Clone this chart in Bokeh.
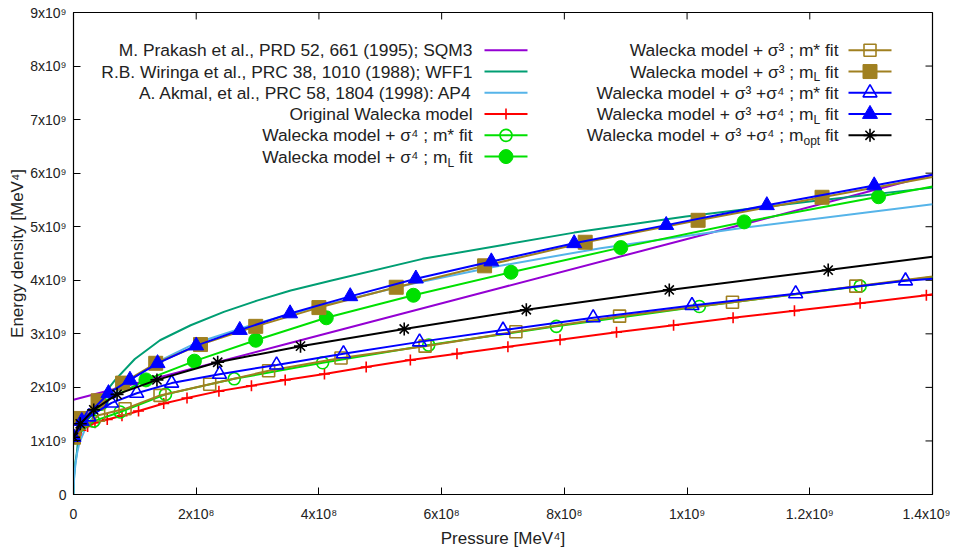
import numpy as np
from bokeh.plotting import figure
from bokeh.models import Range1d, FixedTicker
from bokeh.embed import file_html
from bokeh.resources import INLINE
from bokeh.core.properties import value

SCALE = 1e9  # values below are in units of 1e9 MeV^4

# ---- reference EoS curves (lines only) ----
sqm3_p = [0.0, 0.35, 0.70, 1.05, 1.40]
sqm3_e = [1.77, 2.82, 3.87, 4.92, 5.97]

wff1_p = [0.0, 0.001, 0.003, 0.0055, 0.008, 0.015, 0.025, 0.035, 0.050, 0.068, 0.100,
          0.141, 0.191, 0.245, 0.299, 0.354, 0.419, 0.569, 0.700, 0.816, 0.998, 1.200, 1.400]
wff1_e = [0.0, 0.35, 0.60, 0.78, 1.08, 1.22, 1.44, 1.63, 1.88, 2.14, 2.53,
          2.88, 3.16, 3.41, 3.62, 3.81, 3.99, 4.40, 4.66, 4.89, 5.19, 5.47, 5.73]

ap4_p = [0.0, 0.001, 0.003, 0.006, 0.010, 0.020, 0.035, 0.060, 0.100, 0.150, 0.200,
         0.300, 0.370, 0.450, 0.550, 0.680, 0.859, 1.092, 1.400]
ap4_e = [0.0, 0.30, 0.55, 0.78, 0.98, 1.25, 1.50, 1.82, 2.20, 2.55, 2.83,
         3.20, 3.42, 3.65, 3.93, 4.24, 4.60, 4.98, 5.42]

# ---- Walecka model variants (marker points + value at right edge p=1.4) ----
orig_p = [0.0, 0.012, 0.023, 0.035, 0.055, 0.079, 0.106, 0.147, 0.185, 0.237, 0.290, 0.345,
          0.409, 0.477, 0.549, 0.625, 0.708, 0.793, 0.885, 0.978, 1.075, 1.175, 1.282, 1.390]
orig_e = [1.07, 1.20, 1.27, 1.34, 1.40, 1.47, 1.56, 1.70, 1.80, 1.93, 2.03, 2.14,
          2.25, 2.38, 2.51, 2.63, 2.76, 2.89, 3.03, 3.16, 3.30, 3.43, 3.57, 3.72]
orig_edge = 3.74

s4_mstar_p = [0.0, 0.033, 0.076, 0.150, 0.262, 0.406, 0.579, 0.787, 1.020, 1.282]
s4_mstar_e = [1.07, 1.37, 1.54, 1.87, 2.16, 2.46, 2.79, 3.14, 3.51, 3.89]
s4_mstar_edge = 4.06

s4_mL_p = [0.0, 0.045, 0.118, 0.197, 0.297, 0.412, 0.554, 0.713, 0.892, 1.093, 1.312]
s4_mL_e = [1.07, 1.70, 2.14, 2.49, 2.88, 3.30, 3.72, 4.15, 4.61, 5.09, 5.56]
s4_mL_edge = 5.75

s3_mstar_p = [0.0, 0.041, 0.084, 0.141, 0.222, 0.318, 0.436, 0.573, 0.721, 0.890, 1.074, 1.275]
s3_mstar_e = [1.07, 1.48, 1.60, 1.85, 2.06, 2.31, 2.55, 2.77, 3.04, 3.33, 3.59, 3.89]
s3_mstar_edge = 4.07

s3_mL_p = [0.0, 0.012, 0.040, 0.080, 0.134, 0.207, 0.297, 0.400, 0.526, 0.670, 0.834, 1.018, 1.220]
s3_mL_e = [1.07, 1.42, 1.75, 2.08, 2.45, 2.80, 3.14, 3.49, 3.87, 4.27, 4.71, 5.12, 5.55]
s3_mL_edge = 5.93

s34_mstar_p = [0.0, 0.025, 0.062, 0.103, 0.160, 0.238, 0.331, 0.440, 0.564, 0.700, 0.847,
               1.008, 1.177, 1.356]
s34_mstar_e = [1.07, 1.45, 1.71, 1.89, 2.08, 2.245, 2.42, 2.63, 2.85, 3.07, 3.30,
               3.53, 3.75, 3.99]
s34_mstar_edge = 4.03

s34_mL_p = [0.0, 0.0135, 0.057, 0.092, 0.137, 0.200, 0.271, 0.353, 0.451, 0.558, 0.681,
            0.816, 0.966, 1.130, 1.305]
s34_mL_e = [1.07, 1.37, 1.89, 2.14, 2.45, 2.78, 3.07, 3.38, 3.70, 4.03, 4.35,
            4.69, 5.03, 5.40, 5.77]
s34_mL_edge = 5.97

s34_mopt_p = [0.0, 0.011, 0.033, 0.071, 0.136, 0.235, 0.370, 0.539, 0.738, 0.971, 1.230]
s34_mopt_e = [1.07, 1.32, 1.58, 1.87, 2.14, 2.47, 2.77, 3.09, 3.45, 3.82, 4.19]
s34_mopt_edge = 4.44

X_MAX = 1.4

# ---- ticks ----
x_ticks = [0, 2e8, 4e8, 6e8, 8e8, 1e9, 1.2e9, 1.4e9]
x_tick_labels = ["0", "2x10\u2078", "4x10\u2078", "6x10\u2078", "8x10\u2078",
                 "1x10\u2079", "1.2x10\u2079", "1.4x10\u2079"]
y_ticks = [0, 1e9, 2e9, 3e9, 4e9, 5e9, 6e9, 7e9, 8e9, 9e9]
y_tick_labels = ["0", "1x10\u2079", "2x10\u2079", "3x10\u2079", "4x10\u2079",
                 "5x10\u2079", "6x10\u2079", "7x10\u2079", "8x10\u2079", "9x10\u2079"]

PURPLE = "#9400d3"
TEAL = "#009e73"
LBLUE = "#56b4e9"
RED = "#ff0000"
GREEN = "#00e000"
BROWN = "#a08020"
BLUE = "#0000ff"
BLACK = "#000000"
FONT = "Liberation Sans"
TXT = "#222222"
TICK_FS = "14px"
LEG_FS = "17.4px"

X0, X1, Y0, Y1 = 0.0, 1.4e9, 0.0, 9e9
FRAME_L, FRAME_T = 73.0, 12.0
FRAME_W, FRAME_H = 859.0, 485.0
CANVAS_W, CANVAS_H = 950, 550

p = figure(width=CANVAS_W, height=CANVAS_H, output_backend="svg", toolbar_location=None,
           x_range=Range1d(X0, X1), y_range=Range1d(Y0, Y1),
           min_border_left=int(FRAME_L), min_border_right=int(CANVAS_W - FRAME_L - FRAME_W),
           min_border_top=int(FRAME_T), min_border_bottom=int(CANVAS_H - FRAME_T - FRAME_H))
p.grid.visible = False
p.outline_line_color = "black"
p.outline_line_width = 1.2
p.background_fill_color = "white"
p.border_fill_color = "white"

for ax, ticks, labels in ((p.xaxis[0], x_ticks, x_tick_labels), (p.yaxis[0], y_ticks, y_tick_labels)):
    ax.ticker = FixedTicker(ticks=ticks)
    ax.major_label_overrides = {float(t): l for t, l in zip(ticks, labels)}
    ax.major_tick_in = 7
    ax.major_tick_out = 0
    ax.minor_tick_line_color = None
    ax.major_tick_line_color = "black"
    ax.axis_line_color = "black"
    ax.major_label_text_font = FONT
    ax.major_label_text_font_size = TICK_FS
    ax.major_label_text_color = TXT
    ax.axis_label_text_font = FONT
    ax.axis_label_text_font_size = "17px"
    ax.axis_label_text_font_style = "normal"
    ax.axis_label_text_color = TXT

p.xaxis.axis_label = "Pressure [MeV\u2074]"
p.yaxis.axis_label = "Energy density [MeV\u2074]"
p.xaxis.major_label_standoff = 11
p.xaxis.axis_label_standoff = 4
p.yaxis.major_label_standoff = 7
p.yaxis.axis_label_standoff = 0

# mirrored inward ticks on the top and right borders
tick_dy = 7.0 / FRAME_H * (Y1 - Y0)
tick_dx = 7.0 / FRAME_W * (X1 - X0)
p.segment(x0=x_ticks, y0=[Y1] * len(x_ticks), x1=x_ticks, y1=[Y1 - tick_dy] * len(x_ticks),
          line_color="black", line_width=1)
p.segment(x0=[X1] * len(y_ticks), y0=y_ticks, x1=[X1 - tick_dx] * len(y_ticks), y1=y_ticks,
          line_color="black", line_width=1)

def sc(a):
    return np.array(a, dtype=float) * SCALE

# reference curves
p.line(sc(sqm3_p), sc(sqm3_e), line_color=PURPLE, line_width=2)
p.line(sc(wff1_p), sc(wff1_e), line_color=TEAL, line_width=2)
p.line(sc(ap4_p), sc(ap4_e), line_color=LBLUE, line_width=2)

series = [
    (orig_p, orig_e, orig_edge, RED, "cross", RED, 11, 1.6),
    (s4_mstar_p, s4_mstar_e, s4_mstar_edge, GREEN, "circle", None, 12, 1.6),
    (s4_mL_p, s4_mL_e, s4_mL_edge, GREEN, "circle", GREEN, 14, 1.0),
    (s3_mstar_p, s3_mstar_e, s3_mstar_edge, BROWN, "square", None, 12, 1.6),
    (s3_mL_p, s3_mL_e, s3_mL_edge, BROWN, "square", BROWN, 14, 1.0),
    (s34_mstar_p, s34_mstar_e, s34_mstar_edge, BLUE, "triangle", None, 14, 1.6),
    (s34_mL_p, s34_mL_e, s34_mL_edge, BLUE, "triangle", BLUE, 15, 1.0),
    (s34_mopt_p, s34_mopt_e, s34_mopt_edge, BLACK, "asterisk", BLACK, 13, 1.6),
]
for px_, ex_, edge, col, mk, fill, size, mlw in series:
    p.line(sc(list(px_) + [X_MAX]), sc(list(ex_) + [edge]), line_color=col, line_width=2)
    p.scatter(sc(px_), sc(ex_), marker=mk, size=size, line_color=col, line_width=mlw,
              fill_color=fill)

# ---- legend (layout positions in page pixels, converted to data space) ----
def LX(px):
    return X0 + (px - FRAME_L) / FRAME_W * (X1 - X0)

def LY(py):
    return Y0 + (FRAME_T + FRAME_H - py) / FRAME_H * (Y1 - Y0)

ROW0, DROW = 50.0, 21.4

def legend_entry(row, text_right, line_l, line_r, label, sub, color, marker, fill, size, mlw):
    y = ROW0 + row * DROW
    if sub is None:
        p.text([LX(text_right)], [LY(y)], text=[label], text_font=value(FONT),
               text_font_size=LEG_FS, text_align="right", text_baseline="middle",
               text_color=TXT)
    else:
        fit_w = 13.5 + 4.8
        sub_w = {"L": 6.7, "opt": 16.7}[sub]
        p.text([LX(text_right)], [LY(y)], text=["fit"], text_font=value(FONT),
               text_font_size=LEG_FS, text_align="right", text_baseline="middle",
               text_color=TXT)
        p.text([LX(text_right - fit_w)], [LY(y + 6)], text=[sub], text_font=value(FONT),
               text_font_size="12px", text_align="right", text_baseline="middle",
               text_color=TXT)
        p.text([LX(text_right - fit_w - sub_w)], [LY(y)], text=[label], text_font=value(FONT),
               text_font_size=LEG_FS, text_align="right", text_baseline="middle",
               text_color=TXT)
    p.line([LX(line_l), LX(line_r)], [LY(y), LY(y)], line_color=color, line_width=2)
    if marker is not None:
        p.scatter([LX((line_l + line_r) / 2)], [LY(y)], marker=marker, size=size,
                  line_color=color, line_width=mlw, fill_color=fill)

L_TXT, L_L, L_R = 472, 484, 527
R_TXT, R_L, R_R = 838, 848, 891
legend_entry(0, L_TXT, L_L, L_R, "M. Prakash et al., PRD 52, 661 (1995); SQM3", None, PURPLE, None, None, 0, 0)
legend_entry(1, L_TXT, L_L, L_R, "R.B. Wiringa et al., PRC 38, 1010 (1988); WFF1", None, TEAL, None, None, 0, 0)
legend_entry(2, L_TXT, L_L, L_R, "A. Akmal, et al., PRC 58, 1804 (1998): AP4", None, LBLUE, None, None, 0, 0)
legend_entry(3, L_TXT, L_L, L_R, "Original Walecka model", None, RED, "cross", RED, 11, 1.6)
legend_entry(4, L_TXT, L_L, L_R, "Walecka model + \u03c3\u2074 ; m* fit", None, GREEN, "circle", None, 12, 1.6)
legend_entry(5, L_TXT, L_L, L_R, "Walecka model + \u03c3\u2074 ; m", "L", GREEN, "circle", GREEN, 14, 1.0)
legend_entry(0, R_TXT, R_L, R_R, "Walecka model + \u03c3\u00b3 ; m* fit", None, BROWN, "square", None, 12, 1.6)
legend_entry(1, R_TXT, R_L, R_R, "Walecka model + \u03c3\u00b3 ; m", "L", BROWN, "square", BROWN, 14, 1.0)
legend_entry(2, R_TXT, R_L, R_R, "Walecka model + \u03c3\u00b3 +\u03c3\u2074 ; m* fit", None, BLUE, "triangle", None, 14, 1.6)
legend_entry(3, R_TXT, R_L, R_R, "Walecka model + \u03c3\u00b3 +\u03c3\u2074 ; m", "L", BLUE, "triangle", BLUE, 15, 1.0)
legend_entry(4, R_TXT, R_L, R_R, "Walecka model + \u03c3\u00b3 +\u03c3\u2074 ; m", "opt", BLACK, "asterisk", BLACK, 13, 1.6)

open("out.html", "w").write(file_html(p, INLINE))
